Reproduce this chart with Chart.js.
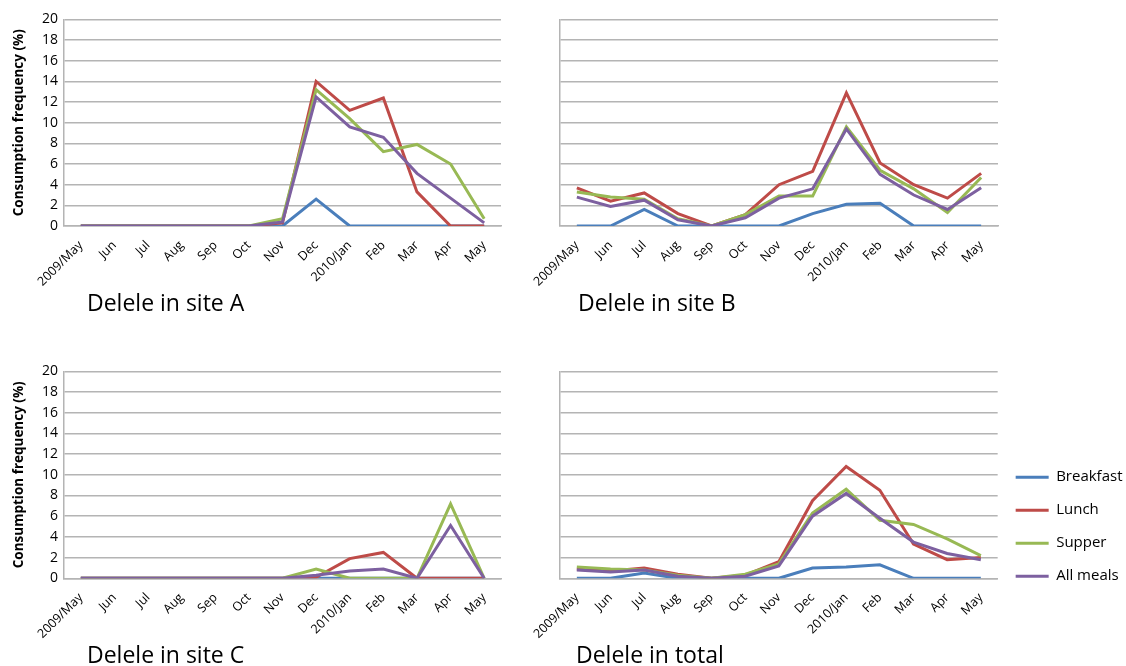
<!DOCTYPE html>
<html>
<head>
<meta charset="utf-8">
<script src="https://cdn.jsdelivr.net/npm/chart.js@4"></script>
<style>
  html, body { margin: 0; background: #fff; overflow: hidden; }
  body { width: 1126px; height: 666px; position: relative; font-family: "Open Sans", sans-serif; }
  canvas { position: absolute; }
  .caption { position: absolute; font-size: 23px; line-height: 1; color: #000; white-space: nowrap; }
</style>
</head>
<body>
<canvas id="siteA" width="510" height="300" style="left:0;top:0"></canvas>
<canvas id="siteB" width="510" height="300" style="left:500px;top:0"></canvas>
<canvas id="siteC" width="510" height="300" style="left:0;top:350px"></canvas>
<canvas id="total" width="642" height="332" style="left:500px;top:350px"></canvas>

<div class="caption" style="left:87px;top:291px">Delele in site A</div>
<div class="caption" style="left:578px;top:291px">Delele in site B</div>
<div class="caption" style="left:87px;top:643px">Delele in site C</div>
<div class="caption" style="left:576px;top:643px">Delele in total</div>

<script>
// Months surveyed and meal series
const months = ["2009/May", "Jun", "Jul", "Aug", "Sep", "Oct", "Nov", "Dec", "2010/Jan", "Feb", "Mar", "Apr", "May"];
const meals = ["Breakfast", "Lunch", "Supper", "All meals"];
const mealColors = ["#4A7EBB", "#BE4B48", "#98B954", "#7D60A0"];
const yMax = 20;
const yStep = 2;

// Site A (%)
const breakfastA = [0, 0, 0, 0, 0, 0, 0, 2.6, 0, 0, 0, 0, 0];
const lunchA     = [0, 0, 0, 0, 0, 0, 0.3, 14.0, 11.2, 12.4, 3.3, 0, 0];
const supperA    = [0, 0, 0, 0, 0, 0, 0.7, 13.2, 10.4, 7.2, 7.9, 6.0, 0.7];
const allA       = [0, 0, 0, 0, 0, 0, 0.4, 12.5, 9.6, 8.6, 5.1, 2.7, 0.3];

// Site B (%)
const breakfastB = [0, 0, 1.6, 0, 0, 0, 0, 1.2, 2.1, 2.2, 0, 0, 0];
const lunchB     = [3.7, 2.4, 3.2, 1.2, 0, 1.1, 4.0, 5.3, 12.9, 6.1, 4.0, 2.7, 5.1];
const supperB    = [3.3, 2.8, 2.6, 0.7, 0, 1.1, 2.9, 2.9, 9.6, 5.4, 3.6, 1.3, 4.7];
const allB       = [2.8, 1.9, 2.5, 0.6, 0, 0.8, 2.7, 3.6, 9.4, 5.0, 3.0, 1.6, 3.7];

// Site C (%)
const breakfastC = [0, 0, 0, 0, 0, 0, 0, 0, 0, 0, 0, 0, 0];
const lunchC     = [0, 0, 0, 0, 0, 0, 0, 0.1, 1.9, 2.5, 0, 0, 0];
const supperC    = [0, 0, 0, 0, 0, 0, 0, 0.9, 0, 0, 0, 7.2, 0];
const allC       = [0, 0, 0, 0, 0, 0, 0, 0.3, 0.7, 0.9, 0, 5.1, 0];

// All sites (%)
const breakfastT = [0, 0, 0.5, 0, 0, 0, 0, 1.0, 1.1, 1.3, 0, 0, 0];
const lunchT     = [0.9, 0.7, 1.0, 0.4, 0, 0.3, 1.6, 7.5, 10.8, 8.5, 3.3, 1.8, 2.0];
const supperT    = [1.1, 0.9, 0.8, 0.3, 0, 0.4, 1.4, 6.3, 8.6, 5.6, 5.2, 3.8, 2.2];
const allT       = [0.8, 0.6, 0.8, 0.2, 0, 0.2, 1.2, 6.0, 8.2, 5.8, 3.5, 2.4, 1.8];

const gridGray = "#b4b4b4";

function panel(id, series, p) {
  const datasets = series.map((values, i) => ({
    label: meals[i],
    data: values,
    borderColor: mealColors[i],
    backgroundColor: mealColors[i],
    borderWidth: 3,
    pointRadius: 0,
    tension: 0,
    order: series.length - i   // later meals drawn on top
  }));

  return new Chart(document.getElementById(id), {
    type: "line",
    data: { labels: months, datasets: datasets },
    options: {
      responsive: false,
      animation: false,
      layout: { padding: p.padding },
      plugins: {
        tooltip: { enabled: false },
        legend: p.legend ? {
          display: true,
          position: "right",
          align: "center",
          labels: {
            usePointStyle: true,
            pointStyle: "line",
            pointStyleWidth: 33,
            padding: 18,
            color: "#000",
            font: { family: "Open Sans", size: 15 },
            sort: (a, b) => a.datasetIndex - b.datasetIndex
          }
        } : { display: false }
      },
      scales: {
        x: {
          offset: true,
          grid: { display: false, drawTicks: false },
          border: { color: gridGray, width: 1.5 },
          ticks: {
            autoSkip: false, minRotation: 45, maxRotation: 45, padding: 12,
            color: "#000", font: { family: "Open Sans", size: 12.5 }
          },
          afterFit: s => { s.height = p.xHeight; }
        },
        y: {
          min: 0,
          max: yMax,
          grid: { color: gridGray, lineWidth: 1.5, drawTicks: false },
          border: { color: gridGray, width: 1.5 },
          ticks: {
            stepSize: yStep, display: p.yLabels, padding: 6,
            color: "#000", font: { family: "Open Sans", size: 14 }
          },
          title: {
            display: p.yLabels,
            text: "Consumption frequency (%)",
            color: "#000",
            font: { family: "Open Sans", size: 13.5, weight: "bold" },
            padding: { top: 11, bottom: 0 }
          },
          afterFit: s => { s.width = p.yWidth; }
        }
      }
    }
  });
}

panel("siteA", [breakfastA, lunchA, supperA, allA],
  { padding: { top: 19.5, right: 9 }, xHeight: 74, yWidth: 64, yLabels: true });
panel("siteB", [breakfastB, lunchB, supperB, allB],
  { padding: { top: 19.5, right: 12 }, xHeight: 74, yWidth: 60, yLabels: false });
panel("siteC", [breakfastC, lunchC, supperC, allC],
  { padding: { top: 21.3, right: 9 }, xHeight: 71.7, yWidth: 64, yLabels: true });
panel("total", [breakfastT, lunchT, supperT, allT],
  { padding: { top: 21.3, right: 9.5 }, xHeight: 103.7, yWidth: 60, yLabels: false, legend: true });
</script>
</body>
</html>
